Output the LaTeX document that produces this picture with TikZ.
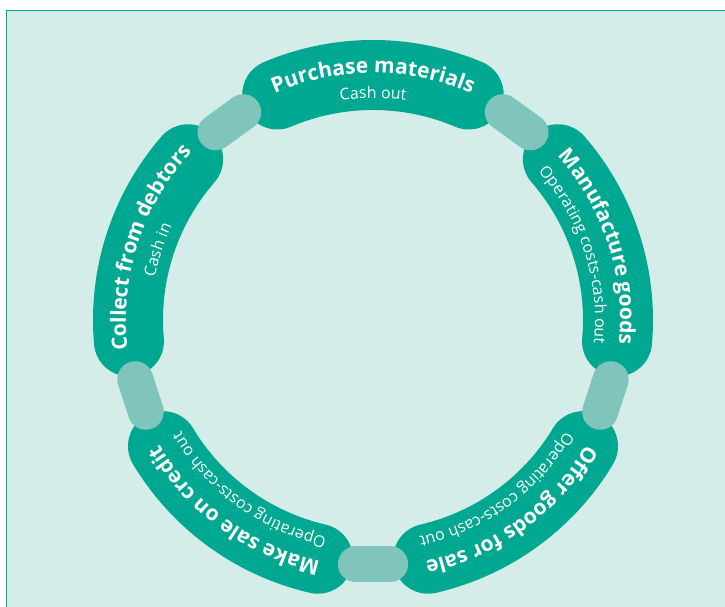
\documentclass[tikz,border=0pt]{standalone}
\usepackage{fontspec}
\setmainfont{Open Sans}
\usepackage{tikz}
\usetikzlibrary{decorations.text}

\definecolor{ringgreen}{HTML}{00A892}
\definecolor{linkgreen}{HTML}{7FC5BC}
\definecolor{panelmint}{HTML}{D5EDE9}

\newcommand{\titlefont}{\bfseries\fontsize{21}{25}\selectfont}
\newcommand{\notefont}{\fontsize{16}{19}\selectfont}

% one stage of the cycle: centre angle, heading, note
\newcommand{\cyclestage}[3]{%
  \draw[segment] ([shift={(#1+23:245)}]hub) arc[start angle=#1+23, end angle=#1-23, radius=245];
  \path[decorate, decoration={text along path, text align=center, text color=white, text={|\titlefont|#2}}]
    ([shift={(#1+45:247)}]hub) arc[start angle=#1+45, end angle=#1-45, radius=247];
  \path[decorate, decoration={text along path, text align=center, text color=white, text={|\notefont|#3}}]
    ([shift={(#1+45:222)}]hub) arc[start angle=#1+45, end angle=#1-45, radius=222];
}
% light bar joining two stages
\newcommand{\cyclelink}[1]{%
  \draw[link] ([shift={(#1-4:245)}]hub) -- ([shift={(#1+4:245)}]hub);
}

\begin{document}
\begin{tikzpicture}[x=1pt, y=1pt,
    segment/.style={draw=ringgreen, line width=70pt, line cap=round},
    link/.style={draw=linkgreen, line width=36pt, line cap=round}
]
    \useasboundingbox (0,0) rectangle (725,607);
    \fill[white] (0,0) rectangle (725,607);
    \filldraw[fill=panelmint, draw=ringgreen, line width=1.5pt] (6.5,-5) rectangle (735,596.5);

    \coordinate (hub) at (373,287);

    \cyclestage{90}{Purchase materials}{Cash out}
    \cyclestage{18}{Manufacture goods}{Operating costs-cash out}
    \cyclestage{-54}{Offer goods for sale}{Operating costs-cash out}
    \cyclestage{-126}{Make sale on credit}{Operating costs-cash out}
    \cyclestage{162}{Collect from debtors}{Cash in}

    \foreach \a in {54,-18,-90,-162,126} {
        \cyclelink{\a}
    }
\end{tikzpicture}
\end{document}
